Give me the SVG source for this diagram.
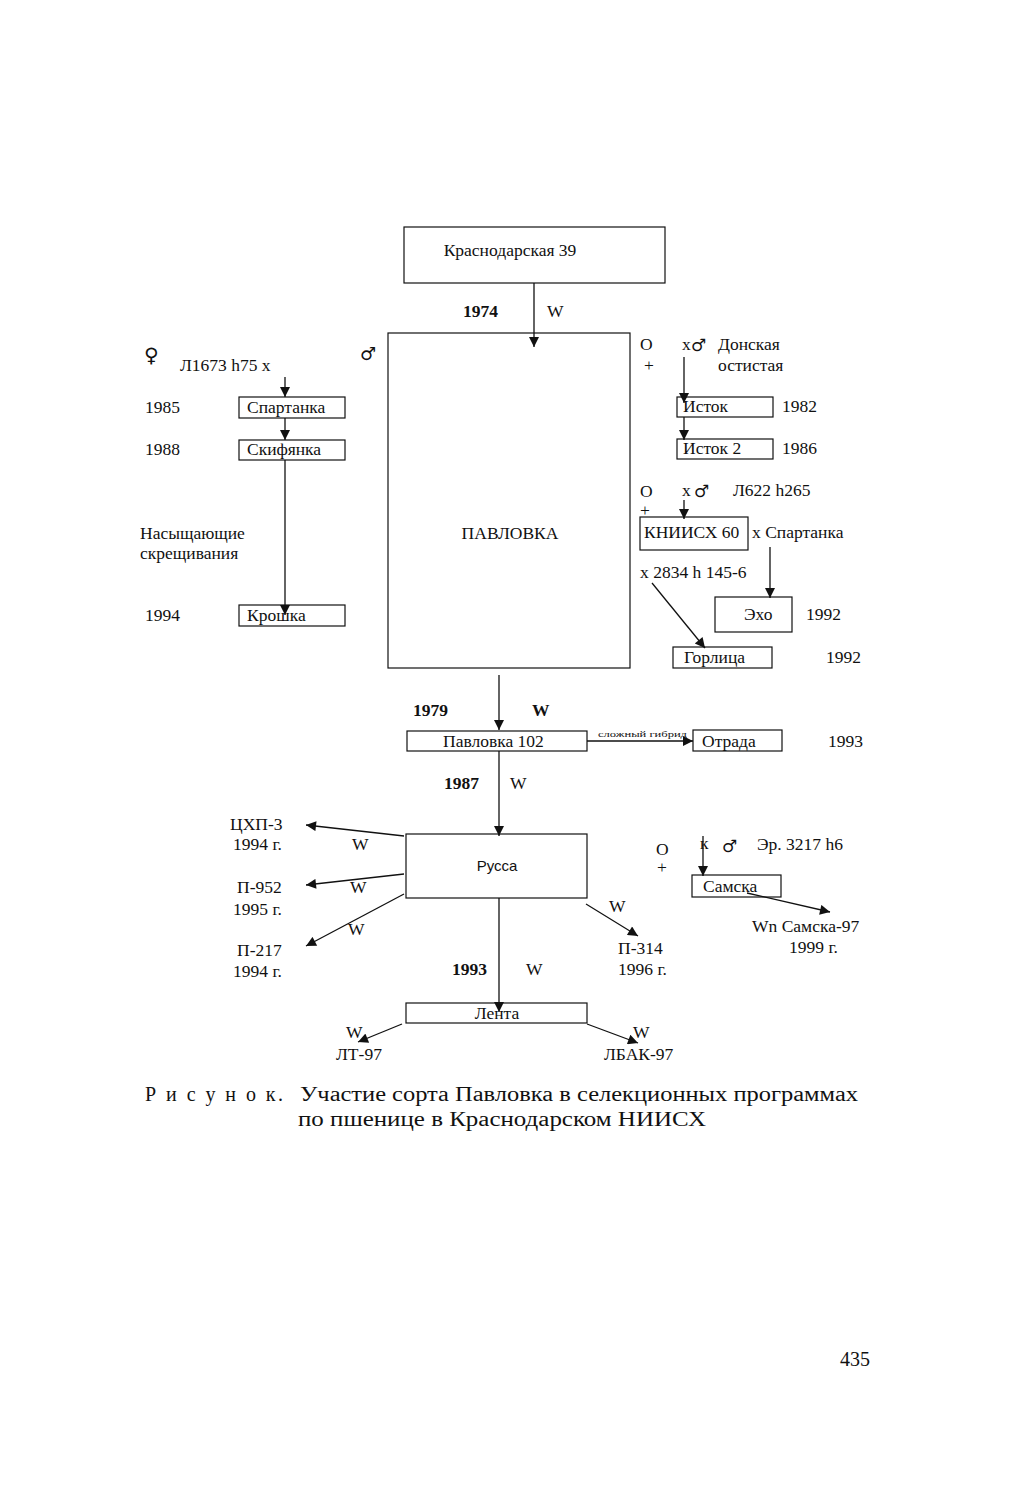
<svg xmlns="http://www.w3.org/2000/svg" width="1010" height="1512" viewBox="0 0 1010 1512">
<style>
text{font-family:"Liberation Serif","Times New Roman",serif;font-size:17.5px;fill:#111}
.b{font-weight:bold}
.c{text-anchor:middle}
.s{font-family:"DejaVu Sans",sans-serif}
.box{fill:#fff;stroke:#111;stroke-width:1.2}
.ln{stroke:#111;stroke-width:1.3;fill:none}
.cap{font-size:20px}
</style>
<defs>
<marker id="ah" viewBox="0 0 10 10" refX="10" refY="5" markerWidth="12" markerHeight="10" markerUnits="userSpaceOnUse" orient="auto">
<path d="M0,0 L10,5 L0,10 z" fill="#111"/>
</marker>
</defs>
<rect width="1010" height="1512" fill="#fff"/>

<g id="n-krasnodarskaya39"><rect class="box" x="404" y="227" width="261" height="56"/><text class="c" x="510" y="256">Краснодарская 39</text></g>
<g id="l-1974"><text class="b" x="463" y="317">1974</text><text x="547" y="317">W</text></g>

<g id="n-pavlovka"><rect class="box" x="388" y="333" width="242" height="335"/><text class="c" x="510" y="539">ПАВЛОВКА</text></g>
<g id="sym-pav-male"><text class="s" x="360" y="360" style="font-size:18px">♂</text></g>

<g id="left-cross"><text class="s" x="144" y="362" style="font-size:20px">♀</text><text x="180" y="371">Л1673 h75  x</text></g>
<g id="n-spartanka"><rect class="box" x="239" y="397" width="106" height="21"/><text x="247" y="413">Спартанка</text><text x="145" y="413">1985</text></g>
<g id="n-skifyanka"><rect class="box" x="239" y="440" width="106" height="20"/><text x="247" y="455">Скифянка</text><text x="145" y="455">1988</text></g>
<g id="l-nasysh"><text x="140" y="539">Насыщающие</text><text x="140" y="559">скрещивания</text></g>
<g id="n-kroshka"><rect class="box" x="239" y="605" width="106" height="21"/><text x="247" y="621">Крошка</text><text x="145" y="621">1994</text></g>

<g id="right-cross1"><text x="640" y="350">O</text><text x="644" y="371">+</text><text x="682" y="350">x</text><text class="s" x="691" y="351" style="font-size:17px">♂</text><text x="718" y="350">Донская</text><text x="718" y="371">остистая</text></g>
<g id="n-istok"><rect class="box" x="677" y="397" width="96" height="20"/><text x="683" y="412">Исток</text><text x="782" y="412">1982</text></g>
<g id="n-istok2"><rect class="box" x="677" y="439" width="96" height="20"/><text x="683" y="454">Исток 2</text><text x="782" y="454">1986</text></g>
<g id="right-cross2"><text x="640" y="497">O</text><text x="640" y="516">+</text><text x="682" y="496">x</text><text class="s" x="694" y="497" style="font-size:17px">♂</text><text x="733" y="496">Л622 h265</text></g>
<g id="n-kniish60"><rect class="box" x="640" y="517" width="108" height="33"/><text x="644" y="538">КНИИСХ 60</text><text x="752" y="538">x Спартанка</text></g>
<g id="l-2834"><text x="640" y="578">x 2834 h 145-6</text></g>
<g id="n-exo"><rect class="box" x="715" y="597" width="77" height="35"/><text x="744" y="620">Эхо</text><text x="806" y="620">1992</text></g>
<g id="n-gorlica"><rect class="box" x="673" y="647" width="99" height="21"/><text x="684" y="663">Горлица</text><text x="826" y="663">1992</text></g>

<g id="l-1979"><text class="b" x="413" y="716">1979</text><text class="b" x="532" y="716">W</text></g>
<g id="n-pavlovka102"><rect class="box" x="407" y="731" width="180" height="20"/><text x="443" y="747">Павловка  102</text></g>
<g id="l-slozh"><text x="598" y="737" style="font-size:9px" textLength="89" lengthAdjust="spacingAndGlyphs">сложный гибрид</text></g>
<g id="n-otrada"><rect class="box" x="693" y="730" width="89" height="21"/><text x="702" y="747">Отрада</text><text x="828" y="747">1993</text></g>

<g id="l-1987"><text class="b" x="444" y="789">1987</text><text x="510" y="789">W</text></g>
<g id="n-russa"><rect class="box" x="406" y="834" width="181" height="64"/><text class="c" x="497" y="871" style="font-family:'Liberation Sans',Arial,sans-serif;font-size:15px">Русса</text></g>
<g id="n-chxp3"><text x="230" y="830">ЦХП-3</text><text x="233" y="850">1994 г.</text><text x="352" y="850">W</text></g>
<g id="n-p952"><text x="237" y="893">П-952</text><text x="233" y="915">1995 г.</text><text x="350" y="893">W</text></g>
<g id="n-p217"><text x="237" y="956">П-217</text><text x="233" y="977">1994 г.</text><text x="348" y="935">W</text></g>
<g id="n-p314"><text x="618" y="954">П-314</text><text x="618" y="975">1996 г.</text><text x="609" y="912">W</text></g>

<g id="right-cross3"><text x="656" y="855">O</text><text x="657" y="873">+</text><text x="700" y="849">к</text><text class="s" x="722" y="852" style="font-size:17px">♂</text><text x="757" y="850">Эр. 3217 h6</text></g>
<g id="n-samska"><rect class="box" x="692" y="875" width="89" height="22"/><text x="703" y="892">Самска</text></g>
<g id="n-samska97"><text x="752" y="932">Wn Самска-97</text><text x="789" y="953">1999 г.</text></g>

<g id="l-1993"><text class="b" x="452" y="975">1993</text><text x="526" y="975">W</text></g>
<g id="n-lenta"><rect class="box" x="406" y="1003" width="181" height="20"/><text class="c" x="497" y="1019">Лента</text></g>
<g id="n-lt97"><text x="346" y="1038">W</text><text x="336" y="1060">ЛТ-97</text></g>
<g id="n-lbak97"><text x="633" y="1038">W</text><text x="604" y="1060">ЛБАК-97</text></g>

<g id="caption"><text class="cap" x="145" y="1101" textLength="138" lengthAdjust="spacing">Р и с у н о к.</text><text class="cap" x="300" y="1101" textLength="558" lengthAdjust="spacingAndGlyphs">Участие сорта Павловка в селекционных программах</text><text class="cap" x="298" y="1126" textLength="408" lengthAdjust="spacingAndGlyphs">по пшенице  в Краснодарском НИИСХ</text></g>
<text x="840" y="1366" style="font-size:20px">435</text>

<g id="connectors">
<line class="ln" x1="534" y1="283" x2="534" y2="347" marker-end="url(#ah)"/>
<line class="ln" x1="285" y1="377" x2="285" y2="397" marker-end="url(#ah)"/>
<line class="ln" x1="285" y1="418" x2="285" y2="440" marker-end="url(#ah)"/>
<line class="ln" x1="285" y1="460" x2="285" y2="615" marker-end="url(#ah)"/>
<line class="ln" x1="684" y1="357" x2="684" y2="403" marker-end="url(#ah)"/>
<line class="ln" x1="684" y1="417" x2="684" y2="440" marker-end="url(#ah)"/>
<line class="ln" x1="684" y1="500" x2="684" y2="519" marker-end="url(#ah)"/>
<line class="ln" x1="770" y1="547" x2="770" y2="598" marker-end="url(#ah)"/>
<line class="ln" x1="652" y1="583" x2="705" y2="648" marker-end="url(#ah)"/>
<line class="ln" x1="499" y1="675" x2="499" y2="730" marker-end="url(#ah)"/>
<line class="ln" x1="587" y1="741" x2="693" y2="741" marker-end="url(#ah)"/>
<line class="ln" x1="499" y1="751" x2="499" y2="836" marker-end="url(#ah)"/>
<line class="ln" x1="404" y1="836" x2="306" y2="825" marker-end="url(#ah)"/>
<line class="ln" x1="404" y1="874" x2="306" y2="885" marker-end="url(#ah)"/>
<line class="ln" x1="404" y1="894" x2="306" y2="946" marker-end="url(#ah)"/>
<line class="ln" x1="586" y1="904" x2="638" y2="936" marker-end="url(#ah)"/>
<line class="ln" x1="499" y1="898" x2="499" y2="1012" marker-end="url(#ah)"/>
<line class="ln" x1="402" y1="1024" x2="358" y2="1042" marker-end="url(#ah)"/>
<line class="ln" x1="587" y1="1024" x2="638" y2="1043" marker-end="url(#ah)"/>
<line class="ln" x1="703" y1="836" x2="703" y2="876" marker-end="url(#ah)"/>
<line class="ln" x1="747" y1="893" x2="830" y2="912" marker-end="url(#ah)"/>
</g>
</svg>
